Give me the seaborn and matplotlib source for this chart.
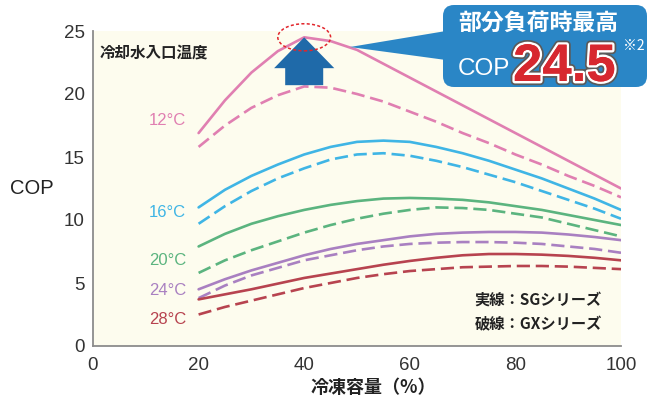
import numpy as np
import pandas as pd
import matplotlib
matplotlib.use("Agg")
import matplotlib.pyplot as plt
import matplotlib.transforms as mtransforms
import matplotlib.patheffects as pe
from matplotlib.patches import Ellipse, Polygon, FancyBboxPatch
import seaborn as sns

# Cooling capacity (%) and COP per inlet cooling-water temperature
capacity = [20, 25, 30, 35, 40, 45, 50, 55, 60, 65, 70, 75, 80, 85, 90, 95, 100]

temps = ["12°C", "16°C", "20°C", "24°C", "28°C"]

# SG series (solid lines)
sg_12 = [16.9, 19.5, 21.7, 23.4, 24.5, 24.2, 23.5, 22.4, 21.3, 20.2, 19.1, 18.0, 16.9, 15.8, 14.7, 13.6, 12.5]
sg_16 = [11.0, 12.4, 13.5, 14.4, 15.2, 15.8, 16.2, 16.3, 16.2, 15.8, 15.3, 14.7, 14.0, 13.3, 12.5, 11.7, 10.8]
sg_20 = [7.9, 8.9, 9.7, 10.3, 10.8, 11.2, 11.5, 11.7, 11.75, 11.7, 11.6, 11.4, 11.1, 10.8, 10.4, 10.0, 9.6]
sg_24 = [4.5, 5.3, 6.0, 6.6, 7.2, 7.7, 8.1, 8.4, 8.7, 8.9, 9.0, 9.05, 9.05, 9.0, 8.85, 8.65, 8.4]
sg_28 = [3.7, 4.1, 4.5, 4.95, 5.4, 5.75, 6.1, 6.45, 6.75, 7.0, 7.2, 7.3, 7.3, 7.25, 7.15, 7.0, 6.8]

# GX series (dashed lines)
gx_12 = [15.8, 17.5, 18.9, 19.9, 20.6, 20.5, 20.0, 19.4, 18.6, 17.8, 16.9, 16.1, 15.2, 14.4, 13.5, 12.7, 11.8]
gx_16 = [9.7, 11.1, 12.3, 13.3, 14.1, 14.8, 15.2, 15.3, 15.1, 14.7, 14.2, 13.6, 13.0, 12.3, 11.6, 10.9, 10.1]
gx_20 = [5.8, 6.8, 7.6, 8.3, 9.0, 9.6, 10.1, 10.5, 10.8, 11.0, 10.95, 10.8, 10.5, 10.2, 9.7, 9.2, 8.7]
gx_24 = [3.8, 4.8, 5.6, 6.2, 6.8, 7.2, 7.6, 7.9, 8.1, 8.2, 8.25, 8.25, 8.2, 8.1, 7.9, 7.7, 7.4]
gx_28 = [2.5, 3.1, 3.6, 4.1, 4.6, 5.0, 5.4, 5.7, 5.95, 6.1, 6.25, 6.3, 6.35, 6.35, 6.3, 6.2, 6.1]

x_ticks = [0, 20, 40, 60, 80, 100]
y_ticks = [0, 5, 10, 15, 20, 25]

colors = ["#e07fb1", "#3fb5e5", "#5bb47f", "#a980c1", "#b7434f"]

sg = [sg_12, sg_16, sg_20, sg_24, sg_28]
gx = [gx_12, gx_16, gx_20, gx_24, gx_28]

rows = []
for t, s_vals, g_vals in zip(temps, sg, gx):
    for c, v in zip(capacity, s_vals):
        rows.append({"capacity": c, "cop": v, "temp": t, "series": "SG"})
    for c, v in zip(capacity, g_vals):
        rows.append({"capacity": c, "cop": v, "temp": t, "series": "GX"})
df = pd.DataFrame(rows)

sns.set_theme(style="white")
plt.rcParams["font.family"] = ["Liberation Sans", "Noto Sans CJK JP"]
JP = ["Noto Sans CJK JP", "Liberation Sans"]

W, H = 648, 399
fig = plt.figure(figsize=(W / 100, H / 100), dpi=100)
ax = fig.add_axes([93 / W, 53 / H, 528 / W, 315 / H])
ax.set_facecolor("#fdfcee")

sns.lineplot(
    data=df, x="capacity", y="cop", hue="temp", style="series",
    hue_order=temps, style_order=["SG", "GX"],
    palette=dict(zip(temps, colors)),
    dashes={"SG": "", "GX": (5, 2.2)},
    linewidth=1.9, legend=False, errorbar=None, ax=ax,
)

ax.set_xlim(0, 100)
ax.set_ylim(0, 25)
ax.set_xticks(x_ticks)
ax.set_yticks(y_ticks)
ax.tick_params(axis="y", direction="in", length=6, width=1, color="#8c8c8c",
               labelsize=13.5, labelcolor="#333333", pad=6)
ax.tick_params(axis="x", length=0, labelsize=13.5, labelcolor="#333333", pad=8)
for side in ("top", "right"):
    ax.spines[side].set_visible(False)
for side in ("left", "bottom"):
    ax.spines[side].set_color("#8c8c8c")
    ax.spines[side].set_linewidth(1.3)

ax.set_ylabel("COP", rotation=0, fontsize=14.5, color="#222222")
ax.yaxis.set_label_coords(-0.1155, 0.50)
ax.yaxis.label.set_va("center")
ax.set_xlabel("冷凍容量（%）", fontsize=13, color="#222222", family=JP,
              fontweight="semibold")
ax.xaxis.set_label_coords(0.53, -0.133)
ax.xaxis.label.set_va("center")

# temperature labels beside the curve starts
label_y = [17.9, 10.6, 6.75, 4.37, 2.1]
for t, c, ly in zip(temps, colors, label_y):
    ax.text(17.6, ly, t, color=c, fontsize=12, ha="right", va="center")

ax.text(1.3, 23.3, "冷却水入口温度", fontsize=11.2, color="#222222",
        ha="left", va="center", family=JP, fontweight="semibold")
ax.text(72.3, 3.65, "実線：SGシリーズ", fontsize=11, color="#222222",
        ha="left", va="center", family=JP, fontweight="semibold")
ax.text(72.3, 1.75, "破線：GXシリーズ", fontsize=11, color="#222222",
        ha="left", va="center", family=JP, fontweight="semibold")

# highlight the SG 12°C maximum
i_peak = int(np.argmax(sg_12))
px_, py_ = capacity[i_peak], sg_12[i_peak]
ax.add_patch(Ellipse((px_, py_), 10.0, 2.15, fill=False, edgecolor="#e2262c",
                     linewidth=1.1, linestyle=(0, (2, 1.5)), clip_on=False, zorder=6))
arrow = [
    (px_, py_),
    (px_ + 5.7, py_ - 2.45),
    (px_ + 3.6, py_ - 2.45),
    (px_ + 3.6, py_ - 3.8),
    (px_ - 3.6, py_ - 3.8),
    (px_ - 3.6, py_ - 2.45),
    (px_ - 5.7, py_ - 2.45),
]
ax.add_patch(Polygon(arrow, closed=True, facecolor="#1f6aa9", edgecolor="none",
                     zorder=5, clip_on=False))

# callout in top-left-origin pixel coordinates
pix = mtransforms.Affine2D().scale(1, -1).translate(0, H)
callout_c = "#2a86c6"
fig.add_artist(FancyBboxPatch((443, 5), 204, 82, boxstyle="round,pad=0,rounding_size=11",
                              facecolor=callout_c, edgecolor="none", transform=pix))
fig.add_artist(Polygon([(350, 47), (446, 31), (446, 60)], closed=True,
                       facecolor=callout_c, edgecolor="none", transform=pix))
fig.text(538, 23, "部分負荷時最高", transform=pix, fontsize=16.5, fontweight="bold",
         color="white", ha="center", va="center", family=JP)
fig.text(458, 69, "COP", transform=pix, fontsize=17.5, color="white",
         ha="left", va="center")
fig.text(513, 81, f"{py_:.1f}", transform=pix, fontsize=38, fontweight="bold",
         color="#d7282f", ha="left", va="baseline",
         path_effects=[pe.withStroke(linewidth=6, foreground="#5a5a5a"),
                       pe.withStroke(linewidth=3.5, foreground="white"),
                       pe.Normal()])
fig.text(623, 46, "※2", transform=pix, fontsize=10, color="white",
         ha="left", va="center", family=JP)

fig.savefig("out.png", dpi=100)
